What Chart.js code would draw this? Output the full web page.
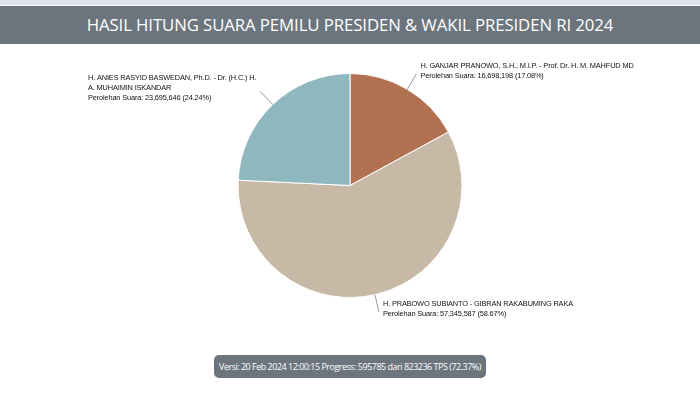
<!DOCTYPE html>
<html>
<head>
<meta charset="utf-8">
<script src="https://cdn.jsdelivr.net/npm/chart.js@4"></script>
<style>
  html, body { margin: 0; padding: 0; background: #fff; }
  #wrap { position: relative; width: 700px; height: 393px; overflow: hidden; }
  #topline { position: absolute; left: 0; top: 0; width: 700px; height: 5px; background: #dde4ea; }
  #header { position: absolute; left: 0; top: 6px; width: 700px; height: 38px; background: #6c757d;
    color: #fff; font-family: "Open Sans", sans-serif; font-size: 16.8px; line-height: 38px; text-align: center;
    white-space: nowrap; letter-spacing: -0.1px; }
  #versi { position: absolute; left: 214px; top: 355px; width: 272px; height: 23px; background: #6c757d;
    border-radius: 5px; color: #fff; font-family: "Open Sans", sans-serif; font-size: 9px;
    letter-spacing: -0.5px; line-height: 23px; text-align: center; white-space: nowrap; }
  canvas { position: absolute; left: 0; top: 0; }
</style>
</head>
<body>
<div id="wrap">
  <canvas id="pie" width="700" height="393"></canvas>
  <div id="topline"></div>
  <div id="header">HASIL HITUNG SUARA PEMILU PRESIDEN &amp; WAKIL PRESIDEN RI 2024</div>
  <div id="versi">Versi: 20 Feb 2024 12:00:15 Progress: 595785 dari 823236 TPS (72.37%)</div>
</div>
<script>
const paslon = [
  'H. GANJAR PRANOWO, S.H., M.I.P. - Prof. Dr. H. M. MAHFUD MD',
  'H. PRABOWO SUBIANTO - GIBRAN RAKABUMING RAKA',
  'H. ANIES RASYID BASWEDAN, Ph.D. - Dr. (H.C.) H. A. MUHAIMIN ISKANDAR'
];
const suara = [16698198, 57345587, 23695646];
const persen = [17.08, 58.67, 24.24];
const warna = ['#b27150', '#c8b8a6', '#8eb8be'];

const pie = document.getElementById('pie');

function wrapText(ctx, text, maxW) {
    const words = text.split(' ');
    const lines = [];
    let cur = '';
    words.forEach(w => {
        const t = cur ? cur + ' ' + w : w;
        if (ctx.measureText(t).width > maxW && cur) {
            lines.push(cur);
            cur = w;
        } else {
            cur = t;
        }
    });
    if (cur) lines.push(cur);
    return lines;
}

// label + garis penunjuk gaya highcharts
const labelPlugin = {
    id: 'labelPaslon',
    afterDatasetsDraw(chart) {
        const ctx = chart.ctx;
        const meta = chart.getDatasetMeta(0);
        ctx.save();
        meta.data.forEach((arc, i) => {
            const p = arc.getProps(['x', 'y', 'startAngle', 'endAngle', 'outerRadius'], true);
            const a = (p.startAngle + p.endAngle) / 2;
            const r = p.outerRadius;
            const x1 = p.x + Math.cos(a) * r, y1 = p.y + Math.sin(a) * r;
            const x2 = p.x + Math.cos(a) * (r + 18), y2 = p.y + Math.sin(a) * (r + 18);
            ctx.strokeStyle = '#9a9a9a';
            ctx.lineWidth = 1;
            ctx.beginPath();
            ctx.moveTo(x1, y1);
            ctx.lineTo(x2, y2);
            ctx.stroke();

            const kanan = Math.cos(a) >= 0;
            ctx.font = '7.4px "Liberation Sans", Arial, sans-serif';
            ctx.letterSpacing = '-0.15px';
            const lines = wrapText(ctx, paslon[i], kanan ? 260 : 176);
            lines.push('Perolehan Suara: ' + suara[i].toLocaleString('en-US') + ' (' + persen[i].toFixed(2) + '%)');
            const lh = 10;
            const w = Math.max(...lines.map(l => ctx.measureText(l).width));
            const bx = kanan ? x2 + 4 : x2 - 4 - w;
            const by = y2 - 3 - (lines.length * lh) / 2;
            ctx.fillStyle = '#111';
            ctx.textBaseline = 'middle';
            ctx.textAlign = 'left';
            lines.forEach((l, k) => ctx.fillText(l, bx, by + lh / 2 + k * lh));
        });
        ctx.restore();
    }
};

new Chart(pie, {
    type: 'pie',
    data: {
        labels: paslon,
        datasets: [{
            data: suara,
            backgroundColor: warna,
            borderColor: '#ffffff',
            borderWidth: 1
        }]
    },
    options: {
        responsive: false,
        animation: false,
        layout: {
            padding: { top: 73, bottom: 95, left: 120, right: 120 }
        },
        plugins: {
            legend: { display: false },
            tooltip: { enabled: false }
        }
    },
    plugins: [labelPlugin]
});
</script>
</body>
</html>
